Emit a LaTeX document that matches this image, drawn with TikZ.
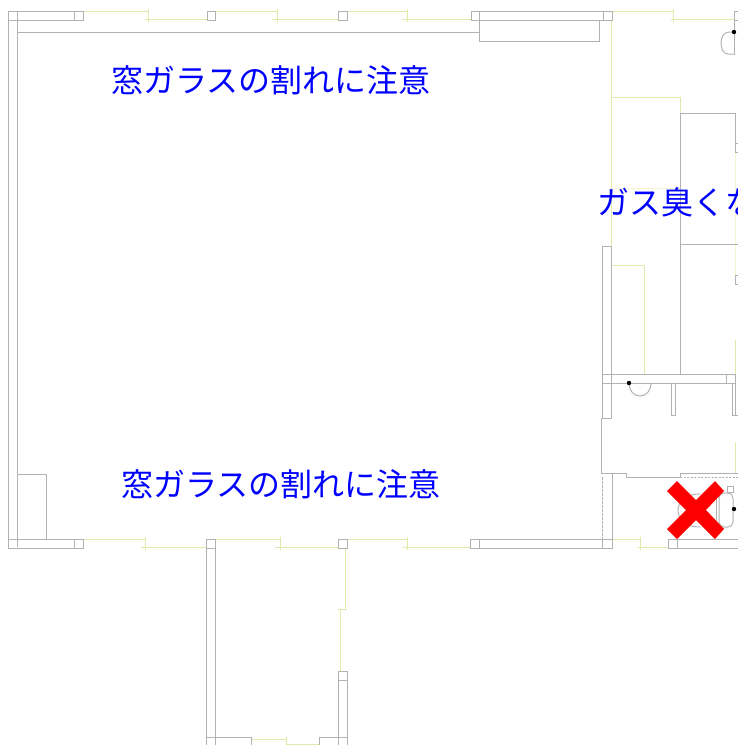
\documentclass[tikz,border=0pt]{standalone}
\usepackage{fontspec}
\newfontfamily\cjk{Noto Sans CJK JP}
\definecolor{wallc}{RGB}{178,178,178}
\definecolor{yelc}{RGB}{226,234,170}
\definecolor{yelf}{RGB}{242,245,208}
\tikzset{
  wall/.style={draw=wallc,line width=1pt},
  yel/.style={draw=yelc,line width=1pt},
  faint/.style={draw=yelf,line width=1pt},
  note/.style={text=blue,font=\cjk\fontsize{32}{32}\selectfont,inner sep=0pt},
}
\begin{document}
\begin{tikzpicture}[x=1pt,y=-1pt]
\useasboundingbox (0,0) rectangle (738,745);
\clip (0,0) rectangle (738,745);
% --- yellow lines, top
\foreach \a/\b/\c/\d in {83/148/145/207,215/277/272/338,347/407/402/471,612/673/671/734}{
  \draw[yel] (\a,11) -- (\b,11) (\b,8.5) -- (\b,21.5) (\c,19) -- (\d,19);
}
% --- yellow lines, bottom
\foreach \a/\b/\c/\d in {83/145/141/206,215/280/275/338,347/407/403/470,612/640/638/668}{
  \draw[yel] (\a,539) -- (\b,539) (\b,536.5) -- (\b,550) (\c,547) -- (\d,547);
}
% --- yellow lines, right side and annex
\draw[yel] (611.5,20) -- (611.5,246);
\draw[yel] (611.5,97) -- (680,97) -- (680,113);
\draw[faint] (611.5,188) -- (680,188);
\draw[faint] (735,152) -- (735,275);
\draw[yel] (611.5,265) -- (644,265) -- (644,374);
\draw[yel] (735,340) -- (735,374);
\draw[yel] (735,442) -- (735,473);
\draw[yel] (345,548) -- (345,609.5) (338,609.5) -- (347,609.5) (340,609.5) -- (340,671);
\draw[yel] (251,739) -- (286,739) (286,737) -- (286,745) (286,744) -- (319,744);
% --- main walls
\draw[wall] (8,11) rectangle (83,20);
\draw[wall] (17,11) -- (17,547);
\draw[wall] (8,20) -- (8,548);
\draw[wall] (74,11) -- (74,20);
\draw[wall] (17,32) -- (479,32);
\draw[wall] (207,11) rectangle (215,20);
\draw[wall] (338,11) rectangle (347,20);
\draw[wall] (471,11) rectangle (612,20);
\draw[wall] (479,11) -- (479,41) -- (599,41) -- (599,20);
\draw[wall] (603,11) -- (603,20);
\draw[wall] (734,11) -- (734,55) (734,11) -- (738,11) (734,20) -- (738,20);
\draw[wall] (734,54) -- (728,54) .. controls (723,54) and (721,48) .. (721,43) .. controls (721,37) and (724,32) .. (729,32) -- (734,32);
\fill (734,32) circle[radius=2.2];
\draw[wall] (17,474) -- (46,474) -- (46,539);
\draw[wall] (8,539) rectangle (83,548);
\draw[wall] (74,539) -- (74,548);
% --- right rooms
\draw[wall] (680,113) -- (735,113) (735,113) -- (735,143);
\draw[wall] (735,143) rectangle (742,152);
\draw[wall] (680,113) -- (680,374);
\draw[wall] (680,244) -- (738,244);
\draw[wall] (735,275) rectangle (742,284);
\draw[wall] (602,246) rectangle (611.5,418);
\draw[wall] (602,374) rectangle (735,383);
\draw[wall] (726,374) -- (726,383);
\draw[wall] (735,374) -- (735,415);
\draw[wall] (732,383) -- (732,415) -- (738,415);
\draw[wall] (671.5,383) -- (671.5,415) -- (675,415) -- (675,383);
\draw[wall] (629,383) .. controls (629,391) and (634,396) .. (640,396) .. controls (646,396) and (651,391) .. (651,383);
\fill (629,383) circle[radius=2.2];
\draw[wall] (601,418) -- (601,473) -- (626,473) -- (626,477.5) -- (680,477.5) -- (680,473) -- (738,473);
\draw[wall,dash pattern=on 2pt off 1.5pt] (680,477.5) -- (738,477.5);
\draw[wall] (612,473) -- (612,548);
\draw[wall,dash pattern=on 2.5pt off 1.5pt] (602,477) -- (602,539);
% --- bottom wall
\draw[wall] (338,539) rectangle (347,548);
\draw[wall] (470,539) rectangle (612,548);
\draw[wall] (479,539) -- (479,548);
\draw[wall] (602,539) -- (602,548);
\draw[wall] (668,539) rectangle (742,548);
\draw[wall] (677.5,539) -- (677.5,548);
% --- annex
\draw[wall] (206.5,539) rectangle (215,548);
\draw[wall] (206.5,548) -- (206.5,745) (215,548) -- (215,745);
\draw[wall] (338,671) rectangle (347,680);
\draw[wall] (338,680) -- (338,745) (347,680) -- (347,745);
\draw[wall] (206.5,737) -- (251,737) -- (251,745);
\draw[wall] (319,745) -- (319,737) -- (347,737);
% --- fixtures behind the cross
\draw[wall] (700,494) .. controls (684,494) and (678,503) .. (678,510) .. controls (678,518) and (684,527) .. (700,527);
\draw[wall,rounded corners=5pt] (719,493) rectangle (733,527);
\draw[wall] (716,497) -- (716,523);
\draw[wall] (727,486) rectangle (733,492);
\fill (734,509) circle[radius=2.2];
% --- red cross
\fill[red] (677,481) -- (696,500) -- (715,481) -- (724,491) -- (706,510) -- (724,529) -- (715,539) -- (696,520) -- (677,539) -- (667,529) -- (686,510) -- (667,491) -- cycle;
% --- notes
\node[note,anchor=center] (n1) at (271,80) {窓ガラスの割れに注意};
\node[note,anchor=center] (n2) at (281,484) {窓ガラスの割れに注意};
\node[note,anchor=west] (n3) at (597,202) {ガス臭くな};
\end{tikzpicture}
\end{document}
